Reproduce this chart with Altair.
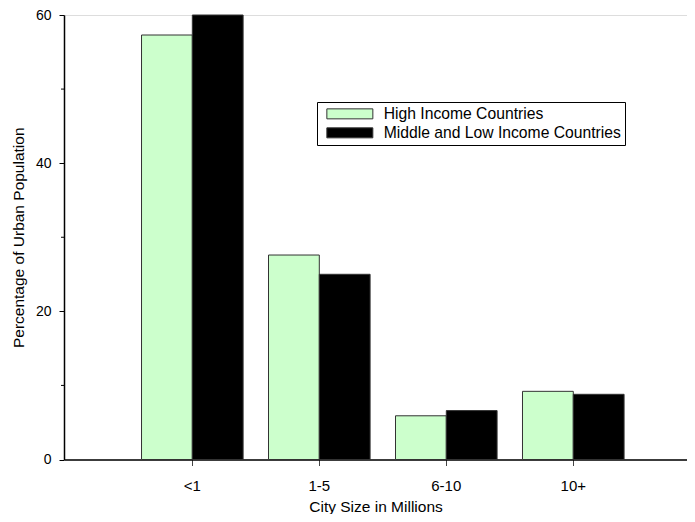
import altair as alt
import pandas as pd

categories = ["<1", "1-5", "6-10", "10+"]
high_income = [57.3, 27.6, 5.9, 9.2]
mid_low_income = [60.0, 25.0, 6.6, 8.8]
series_names = ["High Income Countries", "Middle and Low Income Countries"]
series_colors = ["#ccffcc", "#000000"]
y_major = [0, 20, 40, 60]
y_minor = [10, 30, 50]

rows = []
for c, h, m in zip(categories, high_income, mid_low_income):
    rows.append({"size": c, "series": series_names[0], "value": h})
    rows.append({"size": c, "series": series_names[1], "value": m})
df = pd.DataFrame(rows)
minor_df = pd.DataFrame({"v": y_minor})

FONT = "Liberation Sans"

y_scale = alt.Scale(domain=[0, 60], nice=False)

bars = alt.Chart(df).mark_bar(stroke="#333333", strokeWidth=1).encode(
    x=alt.X("size:N", sort=categories,
            scale=alt.Scale(paddingInner=0.2, paddingOuter=0.553, align=0.552),
            axis=alt.Axis(title="City Size in Millions", labelAngle=0, tickSize=6,
                          labelPadding=13, titleY=47, titleBaseline="middle",
                          domainColor="black", domainWidth=1.5, tickColor="#444444",
                          labelColor="black", titleColor="black",
                          labelFontSize=15, titleFontSize=15.5, titleFontWeight="normal")),
    xOffset=alt.XOffset("series:N", sort=series_names),
    y=alt.Y("value:Q", scale=y_scale,
            axis=alt.Axis(title="Percentage of Urban Population", values=y_major, grid=False,
                          tickSize=5, labelPadding=8, domainColor="black", domainWidth=1.5,
                          tickColor="black", labelColor="black", titleColor="black",
                          labelFontSize=14, titleFontSize=15.5, titleFontWeight="normal",
                          titlePadding=9)),
    color=alt.Color("series:N", sort=series_names,
                    scale=alt.Scale(domain=series_names, range=series_colors),
                    legend=alt.Legend(title=None, orient="none", legendX=253, legendY=87,
                                      strokeColor="black", fillColor="white", padding=4,
                                      symbolType="M-0.4,-1H8.8V1H-0.4Z", symbolSize=100,
                                      symbolStrokeColor="#333333", symbolStrokeWidth=1,
                                      symbolOpacity=1,
                                      labelFontSize=15.7, labelColor="black", labelLimit=400,
                                      labelOffset=47, rowPadding=2)),
)

minor = alt.Chart(minor_df).mark_rule(color="black", strokeWidth=1).encode(
    y=alt.Y("v:Q", scale=y_scale),
    x=alt.value(-3),
    x2=alt.value(0),
)

chart = alt.layer(bars, minor).properties(
    width=623, height=444.5,
    autosize=alt.AutoSizeParams(type="none"),
    padding={"left": 56, "top": 7, "right": 0, "bottom": 54},
).configure_view(stroke=None).configure(font=FONT)

chart.save("out.html", embed_options={"renderer": "svg", "actions": False})
